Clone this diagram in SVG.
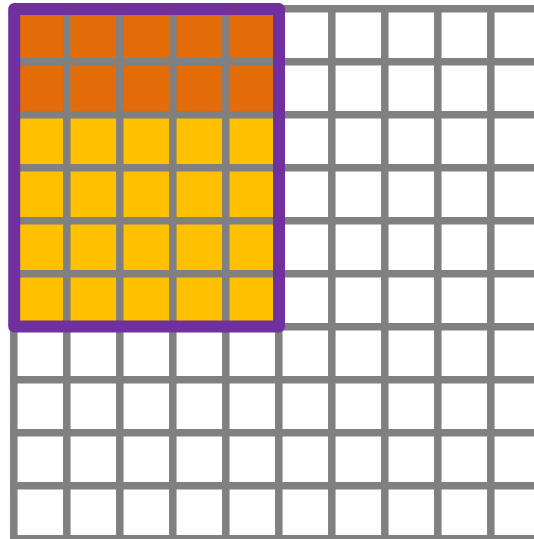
<svg xmlns="http://www.w3.org/2000/svg" width="534" height="539" viewBox="0 0 534 539">
<style>
.g{stroke:#808080;stroke-width:7.5;fill:none}
</style>
<rect width="534" height="539" fill="#ffffff"/>
<g id="fills">
<rect x="13.5" y="8.5" width="265" height="106" fill="#E36C09"/>
<rect x="13.5" y="114.5" width="265" height="212" fill="#FFC000"/>
</g>
<g id="grid" class="g">
<path d="M10 8.7H534M10 61.7H534M10 114.7H534M10 167.7H534M10 220.7H534M10 273.7H534M10 326.7H534M10 379.7H534M10 432.7H534M10 485.7H534M10 538.7H534"/>
<path d="M13.8 5V539M66.8 5V539M119.8 5V539M172.8 5V539M225.8 5V539M278.8 5V539M331.8 5V539M384.8 5V539M437.8 5V539M490.8 5V539"/>
</g>
<g id="selection">
<rect x="14.2" y="9" width="264.8" height="317.5" fill="none" stroke="#7030A0" stroke-width="12" stroke-linejoin="round"/>
</g>
</svg>
